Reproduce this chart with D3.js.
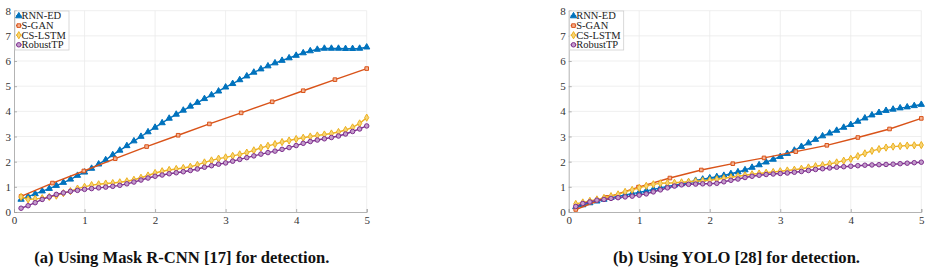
<!DOCTYPE html>
<html>
<head>
<meta charset="utf-8">
<script src="https://cdn.jsdelivr.net/npm/d3@7"></script>
<style>
  body { margin: 0; background: #fff; }
  svg { display: block; }
</style>
</head>
<body>
<svg id="chart" width="931" height="276"></svg>
<script>
// time horizon (s) for dense series
const xDense = [0.1,0.2,0.3,0.4,0.5,0.6,0.7,0.8,0.9,1.0,1.1,1.2,1.3,1.4,1.5,1.6,1.7,1.8,1.9,2.0,
  2.1,2.2,2.3,2.4,2.5,2.6,2.7,2.8,2.9,3.0,3.1,3.2,3.3,3.4,3.5,3.6,3.7,3.8,3.9,4.0,
  4.1,4.2,4.3,4.4,4.5,4.6,4.7,4.8,4.9,5.0]
// S-GAN only has 12 samples
const xSgan = [0.1,0.545,0.99,1.435,1.88,2.327,2.77,3.22,3.66,4.1,4.55,5.0]

const seriesNames = ["RNN-ED", "S-GAN", "CS-LSTM", "RobustTP"]
const xTicks = [0,1,2,3,4,5]
const yTicks = [0,1,2,3,4,5,6,7,8]
const captions = ["(a) Using Mask R-CNN [17] for detection.", "(b) Using YOLO [28] for detection."]

// panel (a) Mask R-CNN
const rnnA = [0.5,0.61,0.72,0.83,0.93,1.05,1.17,1.3,1.45,1.58,1.73,1.9,2.07,2.27,2.45,2.63,2.82,3.0,3.18,3.36,
  3.54,3.72,3.88,4.04,4.2,4.35,4.5,4.65,4.8,4.96,5.1,5.25,5.4,5.55,5.68,5.8,5.92,6.02,6.12,6.22,
  6.32,6.4,6.46,6.5,6.5,6.5,6.49,6.49,6.5,6.55]
const sganA = [0.62,1.15,1.63,2.12,2.6,3.05,3.5,3.94,4.38,4.82,5.26,5.7]
const cslstmA = [0.6,0.5,0.52,0.55,0.6,0.65,0.75,0.83,0.93,1.0,1.07,1.1,1.13,1.15,1.18,1.22,1.28,1.36,1.45,1.55,
  1.62,1.67,1.71,1.75,1.8,1.87,1.97,2.05,2.12,2.17,2.23,2.29,2.36,2.45,2.55,2.63,2.7,2.78,2.84,2.9,
  2.95,3.0,3.04,3.08,3.12,3.18,3.26,3.36,3.52,3.75]
const robustA = [0.15,0.25,0.37,0.5,0.6,0.7,0.76,0.82,0.86,0.9,0.93,0.96,0.99,1.02,1.06,1.12,1.19,1.27,1.35,1.42,
  1.47,1.52,1.56,1.6,1.65,1.71,1.78,1.84,1.9,1.95,2.02,2.09,2.16,2.23,2.3,2.36,2.42,2.49,2.56,2.64,
  2.73,2.8,2.86,2.91,2.96,3.02,3.1,3.2,3.3,3.42]

// panel (b) YOLO
const rnnB = [0.2,0.28,0.36,0.43,0.5,0.57,0.62,0.68,0.73,0.78,0.84,0.9,0.96,1.02,1.07,1.12,1.18,1.25,1.3,1.35,
  1.4,1.45,1.52,1.59,1.67,1.77,1.87,1.98,2.09,2.2,2.32,2.45,2.6,2.74,2.88,3.02,3.13,3.24,3.36,3.47,
  3.6,3.73,3.85,3.95,4.03,4.08,4.13,4.17,4.22,4.27]
const sganB = [0.1,0.58,0.99,1.35,1.67,1.92,2.15,2.4,2.65,2.96,3.3,3.72]
const cslstmB = [0.32,0.38,0.44,0.5,0.56,0.63,0.7,0.8,0.88,0.96,1.04,1.1,1.14,1.15,1.16,1.18,1.2,1.22,1.24,1.26,
  1.3,1.34,1.38,1.42,1.46,1.5,1.53,1.56,1.59,1.62,1.65,1.68,1.72,1.77,1.82,1.86,1.91,1.97,2.04,2.11,
  2.22,2.33,2.43,2.5,2.56,2.6,2.62,2.64,2.65,2.66]
const robustB = [0.22,0.34,0.4,0.47,0.5,0.54,0.57,0.6,0.63,0.67,0.72,0.8,0.88,0.96,1.03,1.08,1.1,1.11,1.12,1.12,
  1.14,1.2,1.26,1.31,1.37,1.42,1.46,1.49,1.51,1.53,1.55,1.58,1.61,1.65,1.69,1.72,1.75,1.78,1.8,1.82,
  1.84,1.86,1.87,1.88,1.89,1.9,1.92,1.94,1.96,1.98]

const styles = [
  {color: "#0072BD", fill: "#0072BD", symbol: d3.symbolTriangle, size: 17},
  {color: "#D95319", fill: "#f3b394", symbol: d3.symbolSquare, size: 13},
  {color: "#EDB120", fill: "#f6d476", symbol: d3.symbolDiamond, size: 15},
  {color: "#7E2F8E", fill: "#c39ccb", symbol: d3.symbolCircle, size: 16}
]

const svg = d3.select("#chart")
const serif = "Liberation Serif, DejaVu Serif, serif"

function drawPanel(left, right, series, caption) {
  let x = d3.scaleLinear().domain([0, 5]).range([left, right])
  let y = d3.scaleLinear().domain([0, 8]).range([212, 10.7])
  let g = svg.append("g")

  // grid
  g.selectAll(".gx").data(xTicks.slice(1)).join("line")
    .attr("x1", d => x(d)).attr("x2", d => x(d))
    .attr("y1", y(0)).attr("y2", y(8))
    .style("stroke", "#ebebeb").style("stroke-width", 0.8)
  g.selectAll(".gy").data(yTicks.slice(1)).join("line")
    .attr("x1", x(0)).attr("x2", x(5))
    .attr("y1", d => y(d)).attr("y2", d => y(d))
    .style("stroke", "#ebebeb").style("stroke-width", 0.8)

  // axes
  let xAxis = g.append("g").attr("transform", `translate(0,${y(0)})`)
    .call(d3.axisBottom(x).tickValues(xTicks).tickFormat(d3.format("d")).tickSize(-3).tickPadding(4))
  let yAxis = g.append("g").attr("transform", `translate(${x(0)},0)`)
    .call(d3.axisLeft(y).tickValues(yTicks).tickFormat(d3.format("d")).tickSize(-3).tickPadding(3))
  for (let a of [xAxis, yAxis]) {
    a.attr("font-family", serif).attr("font-size", 11)
    a.select(".domain").style("stroke", "#a0a0a0").style("stroke-width", 0.8)
    a.selectAll(".tick line").style("stroke", "#a0a0a0").style("stroke-width", 0.8)
    a.selectAll("text").style("fill", "#333")
  }

  // lines + markers
  series.forEach((s, i) => {
    let st = styles[i]
    let pts = s.xs.map((d, j) => [d, s.ys[j]])
    g.append("path").datum(pts)
      .attr("d", d3.line().x(d => x(d[0])).y(d => y(d[1])))
      .style("fill", "none").style("stroke", st.color).style("stroke-width", 1.4)
    g.selectAll(".m" + i).data(pts).join("path")
      .attr("transform", d => `translate(${x(d[0])},${y(d[1])})`)
      .attr("d", d3.symbol().type(st.symbol).size(st.size))
      .style("fill", st.fill).style("stroke", st.color).style("stroke-width", 1)
  })

  // legend
  let lg = g.append("g").attr("transform", `translate(${x(0) + 1},11)`)
  lg.append("rect").attr("width", 54).attr("height", 39)
    .style("fill", "#fff").style("stroke", "#cfcfcf").style("stroke-width", 0.8)
  seriesNames.forEach((n, i) => {
    let st = styles[i]
    let yy = 5 + i * 9.6
    lg.append("line").attr("x1", 1).attr("x2", 6.5).attr("y1", yy).attr("y2", yy)
      .style("stroke", st.color).style("stroke-width", 1.4)
    lg.append("path").attr("transform", `translate(3.8,${yy})`)
      .attr("d", d3.symbol().type(st.symbol).size(st.size))
      .style("fill", st.fill).style("stroke", st.color).style("stroke-width", 1)
    lg.append("text").attr("x", 6.5).attr("y", yy + 3.4).text(n)
      .attr("font-family", serif).attr("font-size", 10.5).style("fill", "#222")
  })

  svg.append("text").attr("x", (left + right) / 2 - 8.5).attr("y", 263)
    .attr("text-anchor", "middle").text(caption)
    .attr("font-family", serif).attr("font-weight", "bold").attr("font-size", 16.6).style("fill", "#111")
}

drawPanel(14, 366.7, [
  {xs: xDense, ys: rnnA}, {xs: xSgan, ys: sganA}, {xs: xDense, ys: cslstmA}, {xs: xDense, ys: robustA}
], captions[0])
drawPanel(568.7, 921.3, [
  {xs: xDense, ys: rnnB}, {xs: xSgan, ys: sganB}, {xs: xDense, ys: cslstmB}, {xs: xDense, ys: robustB}
], captions[1])
</script>
</body>
</html>
